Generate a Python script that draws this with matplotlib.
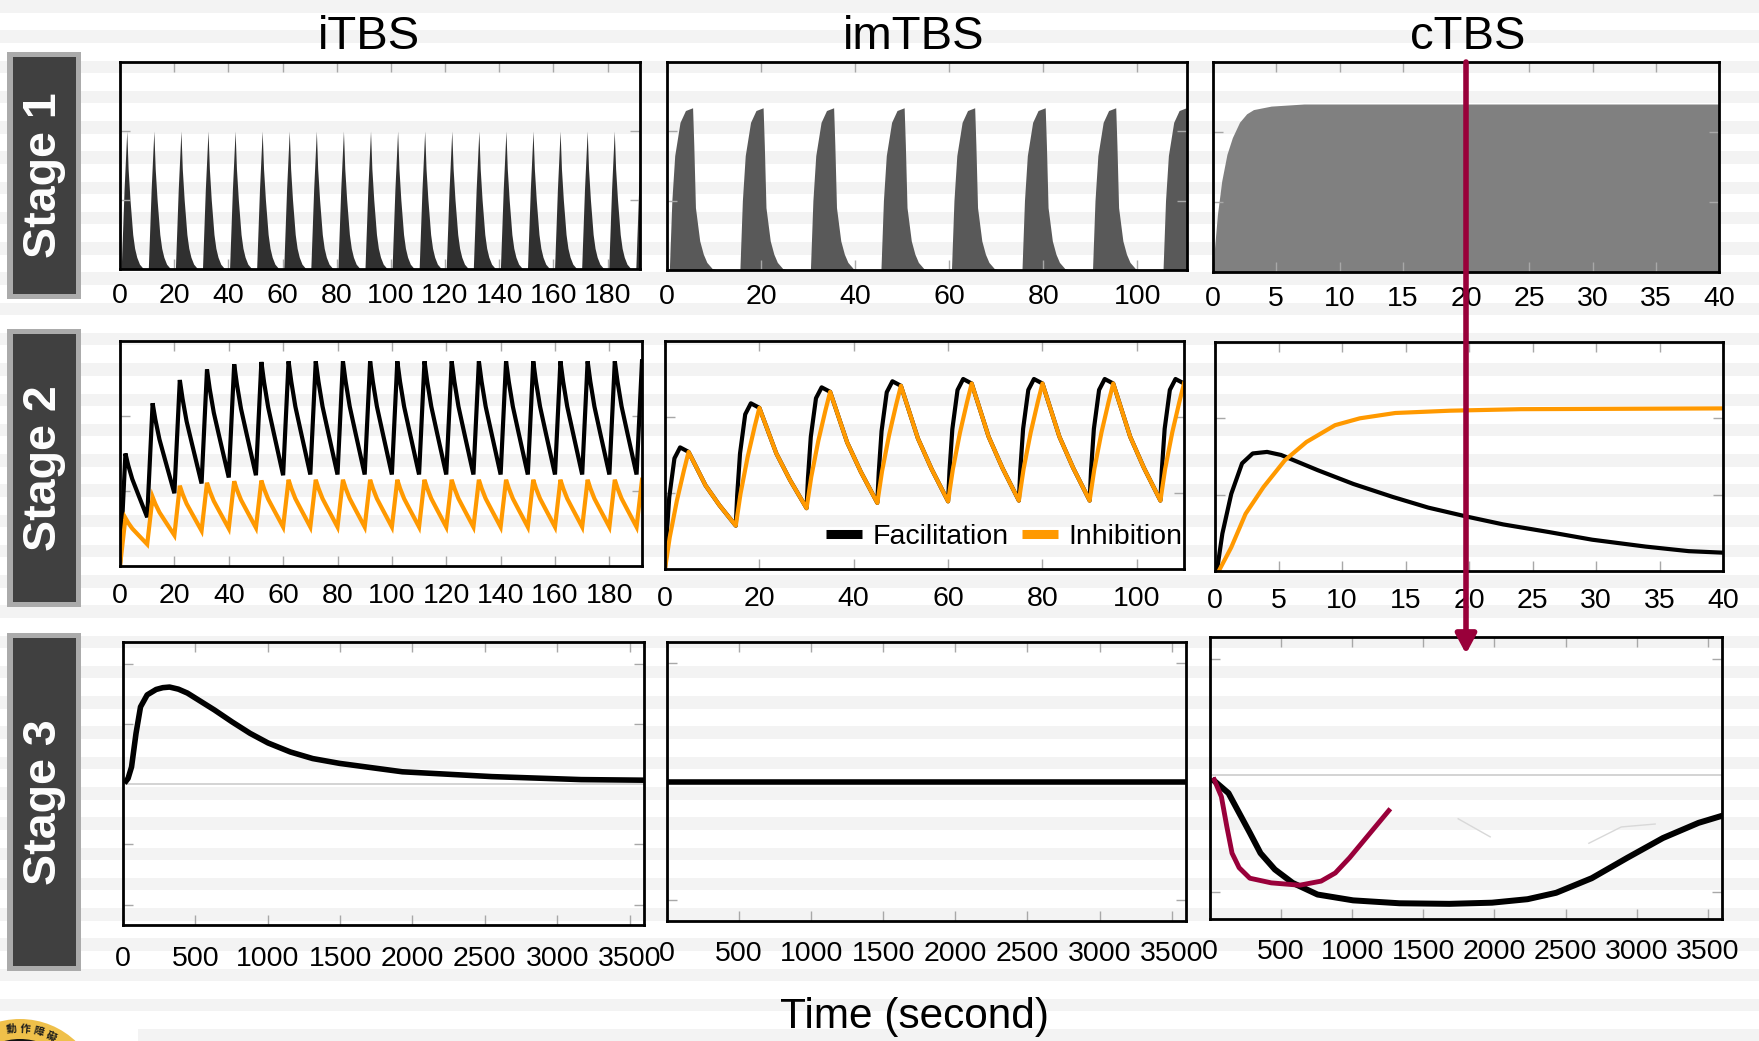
import numpy as np
import matplotlib
matplotlib.use("Agg")
import matplotlib.pyplot as plt
from matplotlib.patches import Rectangle, Circle, ConnectionPatch
from matplotlib.lines import Line2D
from matplotlib.transforms import blended_transform_factory

plt.rcParams['font.family'] = ['Liberation Sans', 'DejaVu Sans']

# ------------------------------------------------------------------ data
COLUMNS = ['iTBS', 'imTBS', 'cTBS']
STAGES = ['Stage 1', 'Stage 2', 'Stage 3']
LEGEND_LABELS = ['Facilitation', 'Inhibition']
XLABEL = 'Time (second)'
LOGO_CHARS = ['動', '作', '障', '礙']

# x tick labels
ITBS_TICKS = [0, 20, 40, 60, 80, 100, 120, 140, 160, 180]
IMTBS_TICKS = [0, 20, 40, 60, 80, 100]
CTBS_TICKS = [0, 5, 10, 15, 20, 25, 30, 35, 40]
STAGE3_TICKS = [0, 500, 1000, 1500, 2000, 2500, 3000, 3500]

# Stage 1 – iTBS: train onsets and one spike profile (time after onset, value)
ITBS_ONSETS = [0, 10, 20, 30, 40, 50, 60, 70, 80, 90, 100, 110, 120, 130, 140,
               150, 160, 170, 180, 190]
ITBS1_SPIKE_T = [0.0, 0.45, 1.5, 2.5, 3.0, 3.7, 4.7, 5.4, 6.2, 7.2, 8.5, 10.0]
ITBS1_SPIKE_V = [0.0, 0.0, 1.15, 2.0, 1.45, 1.0, 0.5, 0.3, 0.17, 0.07, 0.01, 0.0]

# Stage 1 – imTBS: pulse onsets and one pulse profile
IMTBS1_ONSETS = [0.5, 15.5, 30.5, 45.5, 60.5, 75.5, 90.5, 105.5]
IMTBS1_PULSE_T = [0.0, 0.53, 1.14, 2.27, 3.42, 4.94, 5.2, 5.55, 6.46, 7.22, 7.97,
                  9.12, 10.27, 15.0]
IMTBS1_PULSE_V = [0.0, 1.0, 1.65, 2.13, 2.30, 2.34, 1.8, 0.90, 0.42, 0.23, 0.11,
                  0.02, 0.0, 0.0]

# Stage 1 – cTBS
CTBS1_T = [0, 0.1, 0.35, 0.69, 1.1, 1.53, 2.1, 2.66, 3.2, 4.6, 7.2, 40]
CTBS1_V = [0, 0.3, 0.82, 1.3, 1.68, 1.92, 2.14, 2.26, 2.32, 2.37, 2.40, 2.40]

# Stage 2 – iTBS: per-train peaks (2 s after onset) and troughs (at onset)
ITBS2_FAC_PEAK = [1.50, 2.17, 2.48, 2.62, 2.69, 2.72, 2.73, 2.73, 2.73, 2.73,
                  2.73, 2.73, 2.73, 2.73, 2.73, 2.73, 2.73, 2.73, 2.73, 2.73]
ITBS2_FAC_TROUGH = [0.00, 0.65, 0.97, 1.10, 1.18, 1.21, 1.21, 1.22, 1.22, 1.22,
                    1.22, 1.22, 1.22, 1.22, 1.22, 1.22, 1.22, 1.22, 1.22, 1.22]
ITBS2_INH_PEAK = [0.64, 0.92, 1.07, 1.11, 1.13, 1.14, 1.15, 1.15, 1.15, 1.15,
                  1.15, 1.15, 1.15, 1.15, 1.15, 1.15, 1.15, 1.15, 1.15, 1.15]
ITBS2_INH_TROUGH = [0.00, 0.29, 0.41, 0.47, 0.50, 0.51, 0.52, 0.52, 0.52, 0.52,
                    0.52, 0.52, 0.52, 0.52, 0.52, 0.52, 0.52, 0.52, 0.52, 0.52]
ITBS2_RISE = 2.0
ITBS2_DECAY_T = [0, 1.0, 2.5, 4.5, 8.0]        # seconds after the peak
ITBS2_DECAY_F = [1.0, 0.82, 0.60, 0.38, 0.0]   # remaining fraction

# Stage 2 – imTBS
IMTBS2_ONSETS = [0, 15, 30, 45, 60, 75, 90, 105]
IMTBS2_PEAK = [1.60, 2.18, 2.39, 2.47, 2.50, 2.50, 2.50, 2.50]
IMTBS2_TROUGH = [0.00, 0.57, 0.80, 0.87, 0.89, 0.90, 0.90, 0.90]
IMTBS2_FAC_RISE_T = [0, 0.3, 0.9, 2.0, 3.2, 5.0]
IMTBS2_FAC_RISE_F = [0, 0.25, 0.59, 0.91, 1.0, 0.963]
IMTBS2_INH_RISE_T = [0, 1.0, 2.5, 4.0, 5.0]
IMTBS2_INH_RISE_F = [0, 0.27, 0.58, 0.84, 1.0]
IMTBS2_DECAY_T = [5.0, 8.6, 11.5, 15.0]
IMTBS2_DECAY_F = [1.0, 0.545, 0.28, 0.0]

# Stage 2 – cTBS
CTBS2_FAC_T = [0, 0.15, 0.58, 1.28, 2.13, 2.97, 4.1, 5.2, 8.1, 10.9, 14.0, 16.8,
               19.9, 22.7, 26.3, 29.7, 33.9, 37.3, 40]
CTBS2_FAC_V = [0, 0.0, 0.49, 1.01, 1.41, 1.54, 1.56, 1.52, 1.32, 1.14, 0.97, 0.83,
               0.71, 0.61, 0.51, 0.41, 0.32, 0.26, 0.24]
CTBS2_INH_T = [0.3, 1.28, 2.41, 3.82, 5.5, 7.2, 9.45, 11.4, 14.2, 18.5, 24.1, 40]
CTBS2_INH_V = [0.0, 0.31, 0.75, 1.10, 1.45, 1.69, 1.91, 2.0, 2.07, 2.10, 2.12, 2.13]

# Stage 3
ITBS3_T = [10, 35, 59, 90, 121, 167, 229, 275, 322, 383, 445, 631, 754, 878,
           1002, 1156, 1311, 1496, 1930, 2548, 3166, 3600]
ITBS3_V = [0.02, 0.1, 0.29, 0.85, 1.29, 1.49, 1.58, 1.61, 1.62, 1.585, 1.52, 1.24,
           1.04, 0.85, 0.69, 0.54, 0.43, 0.35, 0.21, 0.13, 0.08, 0.07]
IMTBS3_T = [0, 3600]
IMTBS3_V = [0.0, 0.0]
CTBS3_T = [30, 130, 205, 280, 355, 456, 581, 756, 1006, 1332, 1683, 1983, 2233,
           2434, 2684, 2934, 3185, 3435, 3598]
CTBS3_V = [-0.1, -0.31, -0.65, -0.99, -1.34, -1.62, -1.85, -2.05, -2.15, -2.2,
           -2.21, -2.19, -2.13, -2.02, -1.77, -1.42, -1.08, -0.82, -0.70]
CTBS3_RED_T = [30, 80, 118, 155, 205, 280, 431, 631, 781, 881, 981, 1107, 1257]
CTBS3_RED_V = [-0.08, -0.37, -0.88, -1.34, -1.59, -1.77, -1.85, -1.89, -1.82,
               -1.68, -1.42, -1.05, -0.61]
FAINT_A_T = [1745, 1970]
FAINT_A_V = [-0.75, -1.06]
FAINT_B_T = [2664, 2892, 3130]
FAINT_B_V = [-1.17, -0.89, -0.84]

# ------------------------------------------------------------------ styles
W, H, DPI = 1759, 1041, 100
BLACK = '#000000'
ORANGE = '#ff9900'
CRIMSON = '#99003a'
STRIPE = '#f3f3f3'
TICK_FS = 20.5

fig = plt.figure(figsize=(W / DPI, H / DPI), dpi=DPI)
fig.patch.set_facecolor('white')


def fig_rect(x0, y0, x1, y1, **kw):
    return Rectangle((x0 / W, 1 - y1 / H), (x1 - x0) / W, (y1 - y0) / H,
                     transform=fig.transFigure, **kw)


# background stripes
for k in range(35):
    y0 = 30.27 * k
    fig.add_artist(fig_rect(0, y0, W, y0 + 12.5, color=STRIPE, lw=0, zorder=-10))


def add_ax(l, t, r, b):
    return fig.add_axes([l / W, 1 - b / H, (r - l) / W, (b - t) / H])


def style(ax, xlim, xticks, ylim, yticks, pad):
    ax.set_facecolor('none')
    ax.set_xlim(xlim)
    ax.set_ylim(ylim)
    ax.set_xticks(xticks)
    ax.set_xticklabels([str(v) for v in xticks])
    ax.set_yticks(yticks)
    ax.tick_params(axis='both', direction='in', length=7, width=1,
                   color='#a8a8a8', top=True, right=True, labelsize=TICK_FS, pad=pad)
    ax.tick_params(axis='y', labelleft=False)
    for s in ax.spines.values():
        s.set_linewidth(2)
        s.set_color('black')
        s.set_zorder(5)


def repeat_profile(onsets, pt, pv):
    t, v = [], []
    for on in onsets:
        t.extend([on + d for d in pt])
        v.extend(pv)
    return np.array(t), np.array(v)


def itbs2_curve(peaks, troughs):
    t, v = [], []
    n = len(peaks)
    for k in range(n):
        on = ITBS_ONSETS[k]
        t += [on, on + ITBS2_RISE]
        v += [troughs[k], peaks[k]]
        if k + 1 < n:
            for dt, f in zip(ITBS2_DECAY_T[1:-1], ITBS2_DECAY_F[1:-1]):
                t.append(on + ITBS2_RISE + dt)
                v.append(troughs[k + 1] + f * (peaks[k] - troughs[k + 1]))
    return t, v


def imtbs2_curves():
    ft, fv, it, iv = [], [], [], []
    n = len(IMTBS2_ONSETS)
    for k, on in enumerate(IMTBS2_ONSETS):
        T, P = IMTBS2_TROUGH[k], IMTBS2_PEAK[k]
        E = T + IMTBS2_FAC_RISE_F[-1] * (P - T)
        for dt, f in zip(IMTBS2_FAC_RISE_T, IMTBS2_FAC_RISE_F):
            ft.append(on + dt); fv.append(T + f * (P - T))
        for dt, f in zip(IMTBS2_INH_RISE_T, IMTBS2_INH_RISE_F):
            it.append(on + dt); iv.append(T + f * (E - T))
        if k + 1 < n:
            Tn = IMTBS2_TROUGH[k + 1]
            for dt, f in zip(IMTBS2_DECAY_T[1:-1], IMTBS2_DECAY_F[1:-1]):
                val = Tn + f * (E - Tn)
                ft.append(on + dt); fv.append(val)
                it.append(on + dt); iv.append(val)
    return ft, fv, it, iv


# ------------------------------------------------------------------ axes
# row 1
a1 = add_ax(120, 62, 640, 269)
b1 = add_ax(667, 62, 1187, 270)
c1 = add_ax(1213, 62, 1719, 272)
# row 2
a2 = add_ax(120, 341, 642, 566)
b2 = add_ax(665, 341, 1184, 569)
c2 = add_ax(1215, 342, 1723, 571)
# row 3
a3 = add_ax(123, 642, 644, 925)
b3 = add_ax(667, 642, 1186, 921)
c3 = add_ax(1210, 637, 1722, 919)

# Stage 1
t, v = repeat_profile(ITBS_ONSETS, ITBS1_SPIKE_T, ITBS1_SPIKE_V)
a1.fill_between(t, 0, v, color='#303030', lw=0)
style(a1, (0, 192), ITBS_TICKS, (0, 3), [1, 2], 10)

t, v = repeat_profile(IMTBS1_ONSETS, IMTBS1_PULSE_T, IMTBS1_PULSE_V)
b1.fill_between(t, 0, v, color='#595959', lw=0)
style(b1, (0, 110.6), IMTBS_TICKS, (0, 3), [1, 2], 10)

c1.fill_between(CTBS1_T, 0, CTBS1_V, color='#808080', lw=0)
style(c1, (0, 40), CTBS_TICKS, (0, 3), [1, 2], 10)

# Stage 2
t, v = itbs2_curve(ITBS2_FAC_PEAK, ITBS2_FAC_TROUGH)
a2.plot(t, v, color=BLACK, lw=3, solid_joinstyle='miter')
t, v = itbs2_curve(ITBS2_INH_PEAK, ITBS2_INH_TROUGH)
a2.plot(t, v, color=ORANGE, lw=3, solid_joinstyle='miter')
style(a2, (0, 192), ITBS_TICKS, (0, 3), [1, 2], 12.5)

ft, fv, it, iv = imtbs2_curves()
b2.plot(ft, fv, color=BLACK, lw=3)
b2.plot(it, iv, color=ORANGE, lw=3)
style(b2, (0, 110), IMTBS_TICKS, (0, 3), [1, 2], 12.5)
b2.legend(handles=[Line2D([], [], color=BLACK, lw=6.5, solid_capstyle='butt'),
                   Line2D([], [], color=ORANGE, lw=6.5, solid_capstyle='butt')],
          labels=LEGEND_LABELS, loc='center right', bbox_to_anchor=(0.997, 0.14),
          ncol=2, frameon=False, fontsize=20.5, handlelength=1.27,
          handletextpad=0.36, columnspacing=0.47, borderpad=0, borderaxespad=0)

c2.plot(CTBS2_FAC_T, CTBS2_FAC_V, color=BLACK, lw=3)
c2.plot(CTBS2_INH_T, CTBS2_INH_V, color=ORANGE, lw=3)
style(c2, (0, 40), CTBS_TICKS, (0, 3), [1, 2], 12.5)

# Stage 3
a3.axhline(0, color='#cccccc', lw=1.2, zorder=1)
a3.plot(ITBS3_T, ITBS3_V, color=BLACK, lw=4, solid_capstyle='butt',
        solid_joinstyle='round')
style(a3, (0, 3600), STAGE3_TICKS, (-2.34, 2.37), [-2, -1, 1, 2], 15)

b3.plot(IMTBS3_T, IMTBS3_V, color=BLACK, lw=4)
style(b3, (0, 3600), STAGE3_TICKS, (-2.35, 2.35), [-2, 2], 14.5)

c3.axhline(0, color='#cccccc', lw=1.2, zorder=1)
c3.plot(FAINT_A_T, FAINT_A_V, color='#d8d8d8', lw=1)
c3.plot(FAINT_B_T, FAINT_B_V, color='#d8d8d8', lw=1)
c3.plot(CTBS3_T, CTBS3_V, color=BLACK, lw=4.3, solid_joinstyle='round')
c3.plot(CTBS3_RED_T, CTBS3_RED_V, color=CRIMSON, lw=3.5, solid_joinstyle='round')
style(c3, (0, 3600), STAGE3_TICKS, (-2.47, 2.37), [-2, 2], 14.5)

# ------------------------------------------------------------------ texts
for x, name in zip([369, 914, 1468], COLUMNS):
    fig.text(x / W, 1 - 49 / H, name, ha='center', va='baseline', fontsize=34)

fig.text(914 / W, 1 - 1028 / H, XLABEL, ha='center', va='baseline', fontsize=30.5)

# stage boxes
for (top, bot), name in zip([(52, 299), (329, 607), (633, 971)], STAGES):
    fig.add_artist(fig_rect(7, top, 81, bot, color='#ababab', lw=0, zorder=2))
    fig.add_artist(fig_rect(13, top + 5, 76, bot - 5, color='#404040', lw=0, zorder=3))
    fig.text(44.5 / W, 1 - (top + bot) / 2 / H, name, rotation=90, ha='center',
             va='center', color='white', fontweight='bold', fontsize=33.5, zorder=4)

# arrow from stage 1 cTBS (t = 20 s) down to stage 3 cTBS
arrow_to = blended_transform_factory(c1.transData, c3.transAxes)
con = ConnectionPatch(xyA=(20, 3.0), coordsA=c1.transData,
                      xyB=(20, 0.94), coordsB=arrow_to,
                      arrowstyle='-|>,head_length=0.58,head_width=0.31',
                      mutation_scale=20, color=CRIMSON, lw=4,
                      shrinkA=0, shrinkB=0, zorder=20)
fig.add_artist(con)

# logo fragment in the lower-left corner
fig.add_artist(fig_rect(0, 1012, 138, 1041, color='white', lw=0, zorder=-5))
lg = fig.add_axes([0, 0, 140 / W, 45 / H])
lg.set_xlim(0, 140)
lg.set_ylim(0, 45)
lg.axis('off')
lg.add_patch(Circle((20, -59), 81, color='#efc04a', lw=0))
lg.add_patch(Circle((20, -59), 61, color='#111111', lw=0))
for ang, ch in zip([97, 86, 75, 64], LOGO_CHARS):
    r = 71
    x = 20 + r * np.cos(np.radians(ang))
    y = -59 + r * np.sin(np.radians(ang))
    lg.text(x, y, ch, rotation=ang - 90, ha='center', va='center', fontsize=7.5,
            color='#1a1a1a', fontweight='bold',
            family=['Noto Sans CJK TC', 'DejaVu Sans'], clip_on=True)

fig.savefig('out.png', dpi=DPI)
